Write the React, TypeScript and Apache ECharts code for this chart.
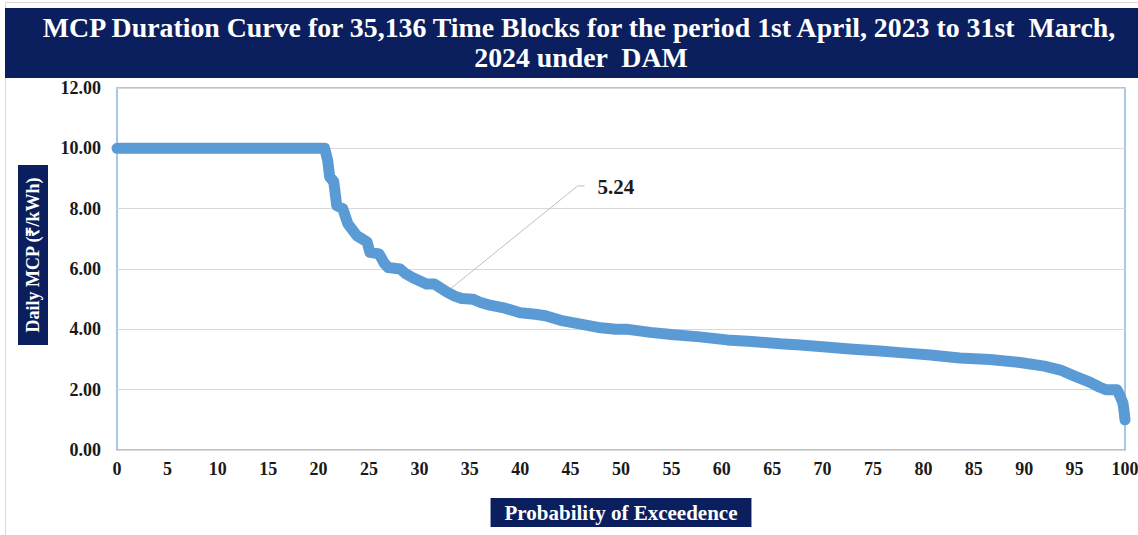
import React, { useEffect, useRef } from "react";
import * as echarts from "echarts";

const TITLE_LINE_1 = "MCP Duration Curve for 35,136 Time Blocks for the period 1st April, 2023 to 31st  March,";
const TITLE_LINE_2 = "2024 under  DAM";
const X_NAME = "Probability of Exceedence";
const Y_NAME = "Daily MCP (₹/kWh)";

// Probability of exceedence (%)
const probs = [
  0, 20.6, 20.9, 21.1, 21.5, 21.8, 22.4, 22.9, 23.8, 24.3, 24.8, 25.1, 26.0, 26.5,
  26.9, 28.1, 28.6, 29.4, 30.7, 31.5, 32.7, 33.5, 34.2, 35.3, 36.0, 37.0, 38.5,
  40.0, 41.5, 42.5, 44.0, 46.0, 48.0, 49.5, 50.7, 52.9, 55.0, 57.8, 60.5, 63.0,
  65.8, 67.8, 70.0, 72.7, 75.7, 78.0, 80.7, 83.6, 86.6, 89.6, 92.0, 93.6, 95.0,
  96.5, 97.5, 98.1, 99.2, 99.5, 99.8, 99.9, 100,
];
// MCP (Rs/kWh)
const mcp = [
  10, 10, 9.6, 9.05, 8.9, 8.1, 8.0, 7.5, 7.1, 7.0, 6.9, 6.55, 6.5, 6.2,
  6.05, 6.0, 5.85, 5.7, 5.5, 5.5, 5.24, 5.1, 5.02, 5.0, 4.9, 4.8, 4.7,
  4.55, 4.5, 4.45, 4.3, 4.17, 4.05, 4.0, 4.0, 3.9, 3.83, 3.75, 3.65, 3.6,
  3.52, 3.48, 3.42, 3.35, 3.28, 3.22, 3.15, 3.05, 3.0, 2.9, 2.78, 2.65, 2.45,
  2.25, 2.08, 2.0, 2.0, 1.8, 1.55, 1.3, 1.0,
];

const xTicks = [0, 100, 5];
const yTicks = [0, 12, 2];

const annotationProb = 32.7;
const annotationValue = 5.24;
const annotationLabel = "5.24";

const NAVY = "#0B1F5E";
const SERIF = "Liberation Serif";

export default function App() {
  const ref = useRef<HTMLDivElement>(null);

  useEffect(() => {
    if (!ref.current) return;
    document.body.style.margin = "0";
    const chart = echarts.init(ref.current, null, { renderer: "svg" });

    const data = probs.map((p, i) => [p, mcp[i]]);

    chart.setOption({
      animation: false,
      backgroundColor: "#ffffff",
      grid: {
        left: 117,
        right: 13,
        top: 88,
        bottom: 85,
        show: true,
        borderColor: "#8FB4DE",
        borderWidth: 1.5,
        backgroundColor: "transparent",
        containLabel: false,
        outerBoundsMode: "none",
      },
      xAxis: {
        type: "value",
        min: xTicks[0],
        max: xTicks[1],
        interval: xTicks[2],
        name: X_NAME,
        nameLocation: "middle",
        nameGap: 48,
        nameTextStyle: {
          color: "#ffffff",
          fontFamily: SERIF,
          fontWeight: "bold",
          fontSize: 21,
          backgroundColor: NAVY,
          padding: [4, 14, 4, 14],
        },
        axisLine: { show: false },
        axisTick: { show: false },
        splitLine: { show: false },
        axisLabel: {
          color: "#1a1a1a",
          fontFamily: SERIF,
          fontWeight: "bold",
          fontSize: 18,
          margin: 10,
        },
      },
      yAxis: {
        type: "value",
        min: yTicks[0],
        max: yTicks[1],
        interval: yTicks[2],
        axisLine: { show: false },
        axisTick: { show: false },
        splitLine: { show: true, lineStyle: { color: "#D9D9D9", width: 1 } },
        axisLabel: {
          color: "#1a1a1a",
          fontFamily: SERIF,
          fontWeight: "bold",
          fontSize: 18,
          margin: 16,
          formatter: (v: number) => v.toFixed(2),
        },
      },
      series: [
        {
          type: "line",
          data,
          showSymbol: false,
          symbol: "none",
          lineStyle: { color: "#5B9BD5", width: 11, cap: "round", join: "round" },
          z: 3,
        },
      ],
    });

    // Title scaling measured from the real font
    const ctx = document.createElement("canvas").getContext("2d");
    let sx = 0.88;
    if (ctx) {
      ctx.font = "bold 27px 'Liberation Serif'";
      const w = ctx.measureText(TITLE_LINE_1).width;
      if (w > 0) sx = 1078 / w;
    }

    const anchor = chart.convertToPixel({ gridIndex: 0 }, [annotationProb, annotationValue]) as number[];
    const ax = anchor[0];
    const ay = anchor[1];

    chart.setOption({
      graphic: [
        {
          type: "rect",
          shape: { x: 5.5, y: 2.5, width: 1140, height: 540 },
          style: { fill: "none", stroke: "#D9D9D9", lineWidth: 1 },
          silent: true,
          z: 0,
        },
        {
          type: "rect",
          shape: { x: 5, y: 8, width: 1133, height: 70 },
          style: { fill: NAVY },
          z: 1,
        },
        {
          type: "text",
          x: 579,
          y: 28,
          scaleX: sx,
          style: {
            text: TITLE_LINE_1,
            fill: "#ffffff",
            font: "bold 27px 'Liberation Serif'",
            textAlign: "center",
            textVerticalAlign: "middle",
          },
          z: 2,
        },
        {
          type: "text",
          x: 581,
          y: 58,
          scaleX: sx,
          style: {
            text: TITLE_LINE_2,
            fill: "#ffffff",
            font: "bold 27px 'Liberation Serif'",
            textAlign: "center",
            textVerticalAlign: "middle",
          },
          z: 2,
        },
        {
          type: "group",
          x: 33,
          y: 255,
          rotation: Math.PI / 2,
          z: 2,
          children: [
            {
              type: "rect",
              shape: { x: -90, y: -15, width: 180, height: 30 },
              style: { fill: NAVY },
            },
            {
              type: "text",
              x: 0,
              y: 0,
              style: {
                text: Y_NAME,
                fill: "#ffffff",
                font: "bold 18px 'Liberation Serif'",
                textAlign: "center",
                textVerticalAlign: "middle",
              },
            },
          ],
        },
        {
          type: "polyline",
          shape: {
            points: [
              [ax, ay],
              [ax + 131, ay - 106],
              [ax + 138, ay - 106],
            ],
          },
          style: { stroke: "#BFBFBF", lineWidth: 1, fill: "none" },
          z: 2,
        },
        {
          type: "text",
          x: ax + 151,
          y: ay - 105,
          style: {
            text: annotationLabel,
            fill: "#1a1a1a",
            font: "bold 21px 'Liberation Serif'",
            textAlign: "left",
            textVerticalAlign: "middle",
          },
          z: 2,
        },
      ],
    });

    return () => chart.dispose();
  }, []);

  return (
    <div
      ref={ref}
      style={{ position: "fixed", left: 0, top: 0, width: 1138, height: 535 }}
    />
  );
}
